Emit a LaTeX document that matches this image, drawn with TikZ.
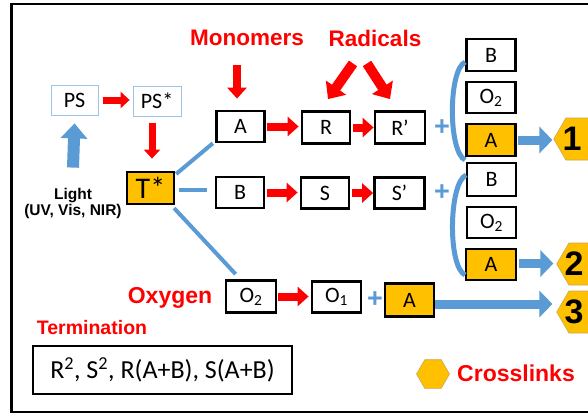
\documentclass[tikz,border=0pt]{standalone}
\usepackage{fontspec}
\setmainfont{Carlito}
\newfontfamily\arialf{Liberation Sans}
\usetikzlibrary{arrows.meta,shapes.geometric,calc}
\definecolor{myred}{HTML}{FF0000}
\definecolor{myblue}{HTML}{5B9BD5}
\definecolor{myorange}{HTML}{FFC000}
\definecolor{psborder}{HTML}{9DC3E6}
\definecolor{hexborder}{HTML}{C8A850}
\begin{document}
\begin{tikzpicture}[x=1pt,y=-1pt,
  box/.style={draw=black, line width=2.8pt, minimum width=48pt, minimum height=31pt, inner sep=0pt, fill=white, font=\fontsize{22}{24}\selectfont},
  obox/.style={box, fill=myorange},
  psbox/.style={draw=psborder, line width=0.8pt, minimum width=47pt, minimum height=30pt, inner sep=0pt, font=\fontsize{22}{24}\selectfont},
  lab/.style={inner sep=0pt, text=myred, font=\arialf\bfseries\fontsize{22.5}{24}\selectfont},
  hex/.style={regular polygon, regular polygon sides=6, fill=myorange, draw=hexborder, line width=0.6pt, inner sep=0pt, minimum size=48.5pt, font=\arialf\bfseries\fontsize{34}{36}\selectfont},
  redarr/.style={draw=myred, line width=8pt, -{Triangle[length=11pt,width=19pt]}},
  redsm/.style={draw=myred, line width=7pt, -{Triangle[length=9pt,width=16pt]}},
  redbig/.style={draw=myred, line width=10pt, -{Triangle[length=14pt,width=24pt]}},
  bluearr/.style={draw=myblue, line width=9pt, -{Triangle[length=13pt,width=26pt]}},
  lightarr/.style={draw=myblue, line width=12pt, -{Triangle[length=15pt,width=26pt]}},
  blueline/.style={draw=myblue, line width=4pt},
  bluebrace/.style={draw=myblue, line width=5pt},
  plus/.style={inner sep=0pt, text=myblue, font=\arialf\bfseries\fontsize{27}{28}\selectfont}
]
\clip (0,0) rectangle (588,416);
\fill[white] (0,0) rectangle (588,416);
\draw[line width=2.6pt] (11.5,4) rectangle (600,412);

% left part
\node[psbox] (PS) at (74.5,100) {PS};
\node[psbox, minimum width=48pt] (PSs) at (157,101) {PS*};
\node[obox, minimum width=47pt, minimum height=32pt, font=\fontsize{30}{32}\selectfont] (T) at (150.5,188) {T*};
\node[inner sep=0pt, align=center, font=\arialf\bfseries\fontsize{15.5}{16}\selectfont] (Light) at (73,203) {Light\\(UV, Vis, NIR)};

% labels
\node[lab] (Mon) at (247,38) {Monomers};
\node[lab] (Rad) at (375,38) {Radicals};
\node[lab, font=\arialf\bfseries\fontsize{23}{24}\selectfont] (Oxy) at (170,298) {Oxygen};
\node[lab, font=\arialf\bfseries\fontsize{19.5}{21}\selectfont] (Term) at (92,328) {Termination};
\node[lab, font=\arialf\bfseries\fontsize{23}{24}\selectfont] (Cross) at (516,373) {Crosslinks};

% chain boxes
\node[box] (A1) at (240.5,126.5) {A};
\node[box, minimum height=32pt] (R) at (326,127.5) {R};
\node[box, minimum width=50pt, minimum height=32pt] (Rp) at (400,127.5) {R’};
\node[box] (B) at (240,192.5) {B};
\node[box] (S) at (325,193) {S};
\node[box, minimum width=50pt] (Sp) at (399.5,193) {S’};
\node[box, minimum width=50pt, minimum height=32pt] (O2) at (251,296.5) {O\textsubscript{2}};
\node[box, minimum width=49pt] (O1) at (336.5,297) {O\textsubscript{1}};
\node[obox, minimum width=49pt, minimum height=33pt] (A3) at (409.5,300) {A};

% columns
\node[box, minimum width=49pt, minimum height=32pt] (B1) at (491,55) {B};
\node[box, minimum width=49pt] (O21) at (491,97.5) {O\textsubscript{2}};
\node[obox, minimum width=49pt, minimum height=32pt] (A11) at (491,140) {A};
\node[box, minimum width=49pt, minimum height=33pt] (B2) at (491.5,179.5) {B};
\node[box, minimum width=49pt] (O22) at (491.5,222.5) {O\textsubscript{2}};
\node[obox, minimum width=50pt] (A2) at (491,264.5) {A};

% pluses
\node[plus] (P1) at (442,128) {+};
\node[plus] (P2) at (442,193) {+};
\node[plus] (P3) at (375,300) {+};

% hexagons
\node[hex] (H1) at (578,139) {\hspace*{-12pt}1};
\node[hex] (H2) at (581,264) {\hspace*{-14pt}2};
\node[hex] (H3) at (581,312) {\hspace*{-14pt}3};
\node[hex, minimum size=33pt] (HL) at (433,374) {};

% termination box
\node[draw, line width=2.6pt, minimum width=259pt, minimum height=48pt, inner sep=0pt, font=\fontsize{26}{28}\selectfont] (TB) at (162.5,370) {R\textsuperscript{2}, S\textsuperscript{2}, R(A+B), S(A+B)};

% red arrows
\draw[redsm, shorten <=5pt, shorten >=3pt] (PS.east) -- (PS.east -| PSs.west);
\draw[redsm] ($(PSs.south)+(-5,7)$) -- ($(T.north)+(1.5,-12)$);
\draw[redarr] ($(Mon.south)+(-10,19)$) -- ($(A1.north)+(-3.5,-11)$);
\draw[redbig] ($(Rad.south)+(-22,17)$) -- ($(R.north)+(2,-11)$);
\draw[redbig] ($(Rad.south)+(-8,17)$) -- ($(Rp.north)+(-10,-11)$);
\draw[redarr, shorten <=1.5pt, shorten >=2pt] (A1.east) -- (A1.east -| R.west);
\draw[redarr, shorten <=1.5pt] (R.east) -- (R.east -| Rp.west);
\draw[redarr, shorten <=1.5pt, shorten >=2pt] (B.east) -- (B.east -| S.west);
\draw[redarr, shorten <=1.5pt] (S.east) -- (S.east -| Sp.west);
\draw[redarr, shorten <=1pt, shorten >=2pt] (O2.east) -- (O2.east -| O1.west);

% blue connectors
\draw[lightarr] ($(Light.north)+(0,-20)$) -- ($(PS.south)+(0,8)$);
\draw[blueline, shorten <=1pt, shorten >=3pt] ($(T.north east)+(0,4)$) -- ($(A1.south west)+(0,-2)$);
\draw[blueline, shorten <=4pt, shorten >=8pt] ([yshift=-2pt]T.east) -- ([yshift=-2pt]T.east -| B.west);
\draw[blueline, shorten <=1pt] ($(T.south east)+(-2,2)$) -- ($(O2.north west)+(11,-5)$);
\draw[bluebrace] ($(B1.west)+(0,7)$) .. controls ($(B1.west)+(-17,15)$) and ($(A11.west)+(-17,12)$) .. ($(A11.west)+(0,20)$);
\draw[bluebrace] ($(B2.west)+(0.5,-4.5)$) .. controls ($(B2.west)+(-17,3.5)$) and ($(A2.west)+(-17,2.5)$) .. ($(A2.west)+(0.5,10.5)$);
\draw[bluearr, shorten <=1.5pt, shorten >=1pt] (A11.east) -- (A11.east -| H1.west);
\draw[bluearr, shorten <=1.5pt, shorten >=3pt] ([yshift=1pt]A2.east) -- ([yshift=1pt]A2.east -| H2.west);
\draw[bluearr, shorten <=0pt, shorten >=4pt] ([yshift=-4pt]A3.east) -- ([yshift=-4pt]A3.east -| H3.west);
\end{tikzpicture}
\end{document}
